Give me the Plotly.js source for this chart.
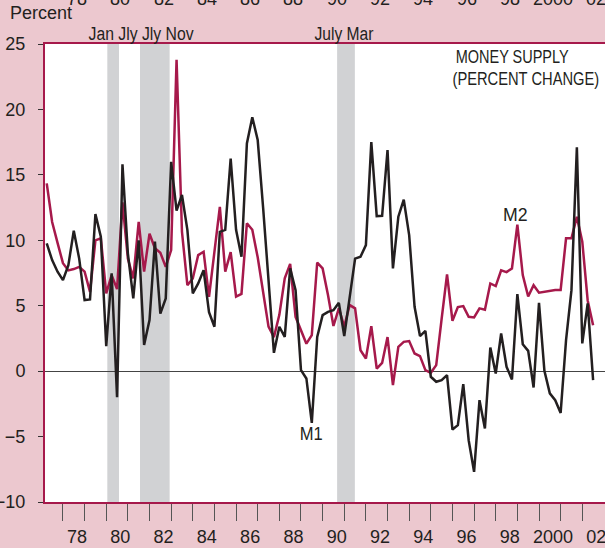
<!DOCTYPE html>
<html>
<head>
<meta charset="utf-8">
<script src="https://cdn.plot.ly/plotly-3.0.1.min.js"></script>
<style>
  html, body { margin: 0; padding: 0; background: #ecc8cf; }
  #chart { width: 605px; height: 548px; }
</style>
</head>
<body>
<div id="chart"></div>
<script>
// Quarterly data, 1977Q1 .. 2002Q2 (annualized percent change)
const firstYear = 1977;
const lastYear = 2002;
const lastQuarter = 2;

const m1 = [9.76, 8.49, 7.6, 6.96, 8.1, 10.73, 8.6, 5.43, 5.48, 12.0,
  10.27, 1.9, 7.47, -2.0, 15.8, 9.0, 5.56, 10.0, 2.0, 3.9,
  9.9, 4.4, 5.56, 16.0, 12.26, 13.46, 10.8, 5.94, 6.7, 7.72,
  4.5, 3.39, 10.65, 10.8, 16.25, 10.8, 8.74, 17.4, 19.4, 17.66,
  12.5, 7.0, 1.4, 3.39, 2.62, 7.85, 6.19, 0.08, -0.56, -3.95,
  2.62, 4.28, 4.53, 4.66, 5.22, 2.68, 5.8, 8.6, 8.74, 9.63,
  17.5, 11.85, 11.87, 16.9, 7.85, 11.8, 13.1, 10.4, 4.92, 2.68,
  3.08, -0.43, -0.81, -0.69, -0.3, -4.46, -4.13, -1.0, -5.28, -7.7,
  -2.22, -4.38, 1.8, -0.18, 2.88, 0.33, -0.64, 5.89, 2.06, 1.55,
  -1.25, 5.22, 0.02, -1.7, -2.22, -3.19, 2.37, 6.19, 17.1, 2.12,
  5.18, -0.69];

const m2 = [14.35, 11.4, 9.8, 8.25, 7.7, 7.8, 7.97, 7.6, 6.06, 10.0,
  10.15, 5.95, 7.34, 6.27, 12.9, 8.6, 7.08, 11.4, 7.6, 10.5,
  9.4, 9.05, 7.97, 9.25, 23.8, 10.65, 6.57, 7.08, 8.87, 9.12,
  5.68, 9.0, 12.56, 7.6, 9.1, 5.7, 5.9, 11.3, 10.8, 8.7,
  6.0, 3.4, 2.6, 4.3, 7.1, 8.2, 4.15, 3.1, 2.1, 2.75,
  8.3, 7.85, 5.8, 3.45, 4.8, 3.4, 5.05, 4.8, 1.6, 0.97,
  3.44, 0.2, 0.63, 2.6, -1.07, 1.86, 2.24, 2.3, 1.35, 1.15,
  0.08, -0.13, 0.46, 4.0, 7.4, 3.85, 4.9, 4.97, 4.15, 4.1,
  4.8, 4.7, 6.7, 6.5, 7.7, 7.57, 7.85, 11.2, 7.34, 5.7,
  6.57, 6.0, 6.06, 6.1, 6.2, 6.2, 10.15, 10.15, 11.8, 9.9,
  5.4, 3.5];

const labelYears = [1978, 1980, 1982, 1984, 1986, 1988, 1990, 1992, 1994, 1996, 1998, 2000, 2002];
const labelTexts = ['78', '80', '82', '84', '86', '88', '90', '92', '94', '96', '98', '2000', '02'];
const yTicks = [-10, -5, 0, 5, 10, 15, 20, 25];

// recessions (start, end as decimal years)
const recessions = [[1980.05, 1980.59], [1981.56, 1982.93], [1990.67, 1991.49]];

// quarter-end positions
const quarters = [];
for (let y = firstYear; y <= lastYear; y++) {
  for (let q = 1; q <= 4; q++) {
    if (y === lastYear && q > lastQuarter) break;
    quarters.push(y + q / 4);
  }
}
const yearTicks = [];
for (let y = 1978; y <= 2002; y++) yearTicks.push(y);

const CRIMSON = '#a6194b';
const INK = '#231f20';
const REG = 'Liberation Sans, Arial, Helvetica, sans-serif';

const labelPos = labelYears.map(y => y + 0.65);

const traces = [
  { x: quarters, y: m2, type: 'scatter', mode: 'lines', name: 'M2',
    line: { color: CRIMSON, width: 2.5 }, hoverinfo: 'skip' },
  { x: quarters, y: m1, type: 'scatter', mode: 'lines', name: 'M1',
    line: { color: INK, width: 2.5 }, hoverinfo: 'skip' }
];

const shapes = recessions.map(r => ({
  type: 'rect', xref: 'x', yref: 'paper', x0: r[0], x1: r[1], y0: 0, y1: 1,
  fillcolor: '#d1d2d4', line: { width: 0 }, layer: 'below'
}));

// condensed labels: [text, center px x, center px y, font size, target width px]
const condensed = [
  ['Jan Jly Jly Nov', 140.5, 34, 18, 105],
  ['July Mar', 344.2, 34, 18, 59],
  ['MONEY SUPPLY', 511.5, 56.7, 18, 113],
  ['(PERCENT CHANGE)', 526, 79, 18, 146.7],
  ['M1', 311, 433.7, 19, 23],
  ['M2', 515, 214, 19, 24.6]
];

const annotations = [
  { text: 'Percent', xref: 'paper', yref: 'paper', x: -0.066, y: 1.0677,
    xanchor: 'left', yanchor: 'middle', showarrow: false, font: { family: REG, size: 18, color: INK } }
];
condensed.forEach(c => {
  annotations.push({ text: c[0], xref: 'paper', yref: 'paper', x: (c[1] - 45) / 560, y: (502 - c[2]) / 458,
    xanchor: 'center', yanchor: 'middle', showarrow: false, font: { family: REG, size: c[3], color: INK } });
});
// cut-off tick labels of the panel above (bottom edge of its axis labels)
labelPos.forEach((p, i) => {
  annotations.push({ text: labelTexts[i], xref: 'x', yref: 'paper', x: p, y: 1.0985,
    xanchor: 'center', yanchor: 'middle', showarrow: false, font: { family: REG, size: 18, color: INK } });
});

const layout = {
  width: 605, height: 548,
  margin: { l: 45, r: 0, t: 44, b: 46, pad: 0 },
  paper_bgcolor: '#ecc8cf',
  plot_bgcolor: '#ffffff',
  showlegend: false,
  xaxis: {
    range: [1977.17, 2003.05],
    tickmode: 'array', tickvals: labelPos, ticktext: labelTexts,
    ticks: 'outside', ticklen: 17, tickcolor: 'rgba(0,0,0,0)', tickwidth: 1,
    ticklabeloverflow: 'allow',
    minor: { tickmode: 'array', tickvals: yearTicks, ticks: 'outside', ticklen: 17, tickcolor: '#555', tickwidth: 1, showgrid: false },
    tickfont: { family: REG, size: 18, color: INK },
    showline: true, linecolor: CRIMSON, linewidth: 2, mirror: true,
    showgrid: false, zeroline: false, fixedrange: true
  },
  yaxis: {
    range: [-10, 25],
    tickmode: 'array', tickvals: yTicks,
    ticks: 'outside', ticklen: 5, tickcolor: '#333', tickwidth: 1,
    tickfont: { family: REG, size: 18, color: INK },
    ticklabelstandoff: 9,
    ticklabeloverflow: 'allow',
    showline: true, linecolor: CRIMSON, linewidth: 2,
    showgrid: false, zeroline: true, zerolinecolor: '#444', zerolinewidth: 1, fixedrange: true
  },
  shapes: shapes,
  annotations: annotations
};

Plotly.newPlot('chart', traces, layout, { displayModeBar: false, staticPlot: true }).then(gd => {
  // emulate the condensed typeface of the original by compressing these labels horizontally
  const widths = {};
  condensed.forEach(c => { widths[c[0]] = c[4]; });
  gd.querySelectorAll('.annotation-text').forEach(t => {
    const w = widths[t.textContent];
    if (w) {
      t.setAttribute('textLength', w);
      t.setAttribute('lengthAdjust', 'spacingAndGlyphs');
    }
  });
});
</script>
</body>
</html>
